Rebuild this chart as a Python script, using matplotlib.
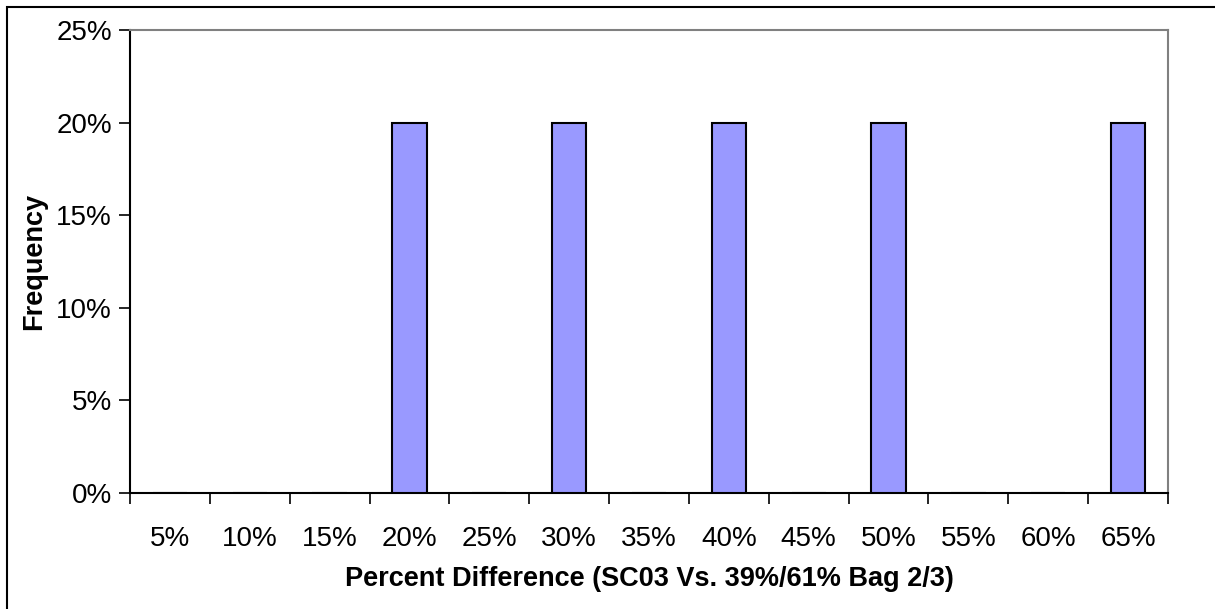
import numpy as np
import matplotlib.pyplot as plt
from matplotlib.patches import Rectangle
from matplotlib.ticker import FixedLocator, PercentFormatter

plt.rcParams['font.family'] = ['Liberation Sans', 'DejaVu Sans']

bins = ["5%", "10%", "15%", "20%", "25%", "30%", "35%", "40%",
        "45%", "50%", "55%", "60%", "65%"]
freq = [0, 0, 0, 0.20, 0, 0.20, 0, 0.20, 0, 0.20, 0, 0, 0.20]

fig = plt.figure(figsize=(12.15, 6.09), dpi=100)
ax = fig.add_axes([130 / 1215, 1 - 493 / 609, 1038 / 1215, 463 / 609])

x = np.arange(len(bins))
ax.bar(x, freq, width=0.43, color='#9999FF', edgecolor='black', linewidth=1.5, zorder=3)

ax.set_xlim(-0.5, len(bins) - 0.5)
ax.set_ylim(0, 0.25)

# category boundaries get the tick marks, labels sit in the middle
ax.xaxis.set_major_locator(FixedLocator(np.arange(-0.5, len(bins), 1.0)))
ax.xaxis.set_minor_locator(FixedLocator(x))
ax.set_xticklabels([], minor=False)
ax.set_xticklabels(bins, minor=True)
ax.tick_params(axis='x', which='major', direction='out', length=8, width=1.2, color='black')
ax.tick_params(axis='x', which='minor', length=0, pad=24, labelsize=20)

ax.set_yticks(np.arange(0, 0.26, 0.05))
ax.yaxis.set_major_formatter(PercentFormatter(1.0, decimals=0))
ax.tick_params(axis='y', direction='out', length=8, width=1.2, pad=5, labelsize=20)

for side in ['top', 'right']:
    ax.spines[side].set_color('#808080')
    ax.spines[side].set_linewidth(1.5)
for side in ['left', 'bottom']:
    ax.spines[side].set_color('black')
    ax.spines[side].set_linewidth(1.5)

ax.set_xlabel('Percent Difference (SC03 Vs. 39%/61% Bag 2/3)', fontsize=19.5,
              fontweight='bold', labelpad=9.5)
ax.set_ylabel('Frequency', fontsize=19.5, fontweight='bold', labelpad=6.5)

# chart frame
fig.patches.append(Rectangle((7 / 1215, -0.1), 1.2, 1 - 7 / 609 + 0.1,
                             transform=fig.transFigure, fill=False,
                             edgecolor='black', linewidth=1.5))

fig.savefig('out.png', dpi=100)
